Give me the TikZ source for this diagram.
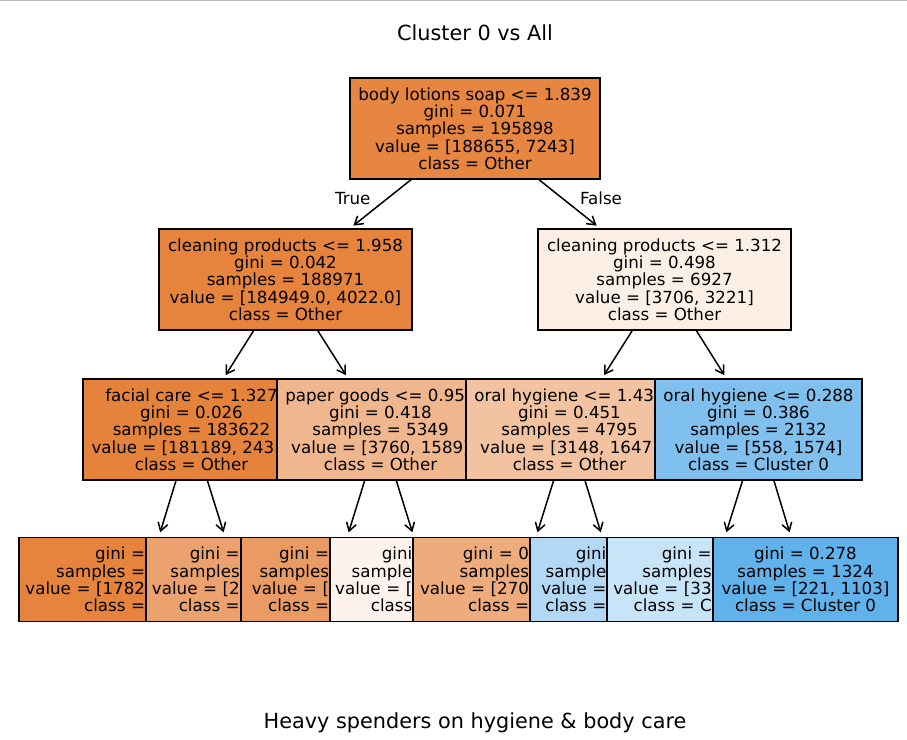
\documentclass[tikz,border=0pt]{standalone}
\usepackage{fontspec}
\setmainfont{DejaVu Sans}
\usepackage{tikz}
\usetikzlibrary{positioning,arrows.meta}

\definecolor{fill0}{RGB}{230,134,65}
\definecolor{fill1}{RGB}{230,132,61}
\definecolor{fill2}{RGB}{229,131,60}
\definecolor{fill3}{RGB}{230,132,62}
\definecolor{fill4}{RGB}{235,162,110}
\definecolor{fill5}{RGB}{240,182,141}
\definecolor{fill6}{RGB}{234,155,99}
\definecolor{fill7}{RGB}{253,242,236}
\definecolor{fill8}{RGB}{252,239,229}
\definecolor{fill9}{RGB}{243,195,161}
\definecolor{fill10}{RGB}{238,171,123}
\definecolor{fill11}{RGB}{178,216,245}
\definecolor{fill12}{RGB}{127,192,238}
\definecolor{fill13}{RGB}{200,228,248}
\definecolor{fill14}{RGB}{97,177,234}

\newcommand\treesize{\fontsize{16.67pt}{17.3pt}\selectfont}
\newcommand\titlesize{\fontsize{20.8pt}{25pt}\selectfont}

\begin{document}
\begin{tikzpicture}[x=1pt, y=-1pt, thin,
    box/.style={draw, line width=1.9pt, font=\treesize, align=center,
      inner sep=0pt, outer sep=0pt, minimum height=100.7pt},
    leaf/.style={box, minimum height=84pt},
    cut/.style={leaf, align=right, text width=#1, inner xsep=1pt},
    arr/.style={-{Straight Barb[length=8pt,width=10pt]}, line width=1.5pt}]

    \useasboundingbox (0,0) rectangle (907,739);
    \fill[black!25] (0,0) rectangle (907,1.4);

    \node[font=\titlesize, anchor=base] (title) at (475,40.7) {Cluster 0 vs All};

    \node[box, fill=fill0, minimum width=250pt] (0) at (475,128.7)
      {body lotions soap <= 1.839\\gini = 0.071\\samples = 195898\\value = [188655, 7243]\\class = Other};
    \node[box, fill=fill1, minimum width=253pt] (1) at (285.5,279.7)
      {cleaning products <= 1.958\\gini = 0.042\\samples = 188971\\value = [184949.0, 4022.0]\\class = Other};
    \node[box, fill=fill2, minimum width=217pt] (2) at (191.5,429.7)
      {facial care <= 1.327\\gini = 0.026\\samples = 183622\\value = [181189, 243\phantom{3]}\\class = Other};
    \node[cut=124.7pt, fill=fill3, anchor=north west] (3) at (19.3,537.5)
      {gini =\\samples =\\value = [1782\\class =};
    \node[cut=92.7pt, fill=fill4, right=0pt of 3] (4)
      {gini =\\samples\\value = [2\\class =};
    \node[box, fill=fill5, minimum width=207pt] (5) at (380.5,429.7)
      {paper goods <= 0.95\phantom{5}\\gini = 0.418\\samples = 5349\\value = [3760, 1589]\\class = Other};
    \node[cut=87.3pt, fill=fill6, right=0pt of 4] (6)
      {gini =\\samples\\value = [\\class =};
    \node[cut=81.3pt, fill=fill7, right=0pt of 6] (7)
      {gini\\sample\\value = [\\class};
    \node[box, fill=fill8, minimum width=253pt] (8) at (664.5,279.7)
      {cleaning products <= 1.312\\gini = 0.498\\samples = 6927\\value = [3706, 3221]\\class = Other};
    \node[box, fill=fill9, minimum width=207pt] (9) at (569.5,429.7)
      {oral hygiene <= 1.43\phantom{0}\\gini = 0.451\\samples = 4795\\value = [3148, 1647\phantom{]}\\class = Other};
    \node[cut=114.7pt, fill=fill10, right=0pt of 7] (10)
      {gini = 0\\samples\\value = [270\\class =};
    \node[cut=75.3pt, fill=fill11, right=0pt of 10] (11)
      {gini\\sample\\value =\\class =};
    \node[box, fill=fill12, minimum width=207pt] (12) at (758.5,429.7)
      {oral hygiene <= 0.288\\gini = 0.386\\samples = 2132\\value = [558, 1574]\\class = Cluster 0};
    \node[cut=103.4pt, fill=fill13, right=0pt of 11] (13)
      {gini =\\samples\\value = [33\\class = C};
    \node[leaf, fill=fill14, minimum width=185.6pt, right=0pt of 13] (14)
      {gini = 0.278\\samples = 1324\\value = [221, 1103]\\class = Cluster 0};

    \node[font=\treesize, anchor=base] (yes) at (352.7,204.3) {True};
    \node[font=\treesize, anchor=base] (no) at (601,204.3) {False};

    % arrow tips above the leaves
    \coordinate (t3) at (160.2,532.3);
    \coordinate (t4) at (223.6,532.3);
    \coordinate (t6) at (348.6,532.3);
    \coordinate (t7) at (412.4,532.3);
    \coordinate (t10) at (537.4,532.3);
    \coordinate (t11) at (600.8,532.3);
    \coordinate (t13) at (726.3,532.3);
    \coordinate (t14) at (789.6,532.3);

    \path[every edge/.style={draw, arr}]
    (0) edge[shorten >=6pt] (1)
    (0) edge[shorten >=6pt] (8)
    (1) edge[shorten >=5pt] (2)
    (1) edge[shorten >=5pt] (5)
    (8) edge[shorten >=5pt] (9)
    (8) edge[shorten >=5pt] (12)
    (2) edge (t3)
    (2) edge (t4)
    (5) edge (t6)
    (5) edge (t7)
    (9) edge (t10)
    (9) edge (t11)
    (12) edge (t13)
    (12) edge (t14);

    \node[font=\titlesize, anchor=base] (caption) at (475,728.3) {Heavy spenders on hygiene \& body care};
\end{tikzpicture}
\end{document}
